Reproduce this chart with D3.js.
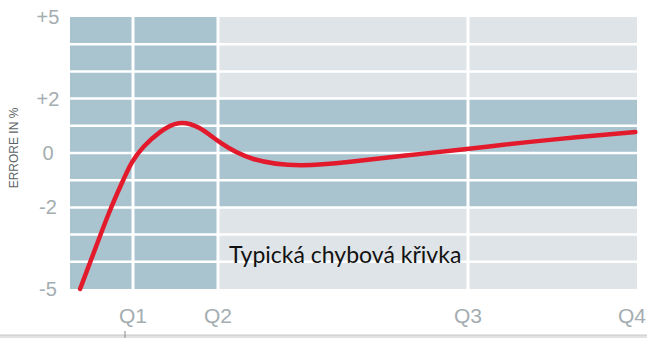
<!DOCTYPE html>
<html>
<head>
<meta charset="utf-8">
<script src="https://cdn.jsdelivr.net/npm/d3@7"></script>
<style>
  body { margin: 0; background: #fff; }
  svg { display: block; }
</style>
</head>
<body>
<div class="chart"></div>
<script>
// curve: x in quarters, y in % error
var curveQ = [0.16, 0.37, 0.63, 0.83, 0.98, 1.12, 1.32, 1.53, 1.79, 2.0, 2.13, 2.33, 2.53, 2.73, 3.0, 3.19, 3.5, 3.99];
var curveErr = [-5, -3.71, -2.1, -1.07, -0.3, 0.25, 0.8, 1.2, 0.98, 0.4, -0.3, -0.52, -0.33, -0.11, 0.15, 0.29, 0.5, 0.77];

var quarterTicks = [1, 2, 3, 4];
var quarterLabels = ['Q1', 'Q2', 'Q3', 'Q4'];
var errTicks = [5, 2, 0, -2, -5];
var errLabels = ['+5', '+2', '0', '-2', '-5'];
var rowEdges = d3.range(-5, 6);    // grid rows, one per percent
var colEdges = [0, 1, 2, 3, 4];
var tolerance = 2;                  // dark band is +-2 after Q2
var axisTitle = 'ERRORE IN %';
var caption = 'Typická chybová křivka';

var width = 647;
var height = 338;
var svg = d3.select('.chart').append('svg').attr('width', width).attr('height', height);

// quarters are not evenly spaced in the original, so piecewise scale
var x = d3.scaleLinear().domain(colEdges).range([70, 133, 218, 468, 637]);
var y = d3.scaleLinear().domain([-5, 5]).range([289, 17]);

var dark = '#a9c3cf';
var light = '#dee4e7';

// cells
var cells = [];
for (var c = 0; c < colEdges.length - 1; c++) {
  for (var r = 0; r < rowEdges.length - 1; r++) {
    cells.push({ q0: colEdges[c], q1: colEdges[c + 1], v0: rowEdges[r], v1: rowEdges[r + 1] });
  }
}
svg.append('g').selectAll('rect')
  .data(cells).enter()
  .append('rect')
  .attr('x', function(d) { return x(d.q0); })
  .attr('y', function(d) { return y(d.v1); })
  .attr('width', function(d) { return x(d.q1) - x(d.q0); })
  .attr('height', function(d) { return y(d.v0) - y(d.v1); })
  .attr('fill', function(d) {
    if (d.q1 <= 2) return dark;
    if (d.v0 >= -tolerance && d.v1 <= tolerance) return dark;
    return light;
  });

// white separators
svg.append('g').selectAll('line.h')
  .data(rowEdges.slice(1, -1)).enter()
  .append('line')
  .attr('x1', x(0)).attr('x2', x(4))
  .attr('y1', function(d) { return y(d); })
  .attr('y2', function(d) { return y(d); })
  .attr('stroke', '#fff').attr('stroke-width', 2.5);

svg.append('g').selectAll('line.v')
  .data(colEdges.slice(1, -1)).enter()
  .append('line')
  .attr('x1', function(d) { return x(d); })
  .attr('x2', function(d) { return x(d); })
  .attr('y1', y(5)).attr('y2', y(-5))
  .attr('stroke', '#fff').attr('stroke-width', 3);

// y tick labels
svg.append('g').selectAll('text')
  .data(errTicks).enter()
  .append('text')
  .attr('x', 48)
  .attr('y', function(d) { return y(d); })
  .attr('dy', '0.35em')
  .attr('text-anchor', 'middle')
  .attr('font-family', 'Liberation Sans, Arial, sans-serif')
  .attr('font-size', 20)
  .attr('fill', '#a4adb1')
  .text(function(d, i) { return errLabels[i]; });

// x tick labels
svg.append('g').selectAll('text')
  .data(quarterTicks).enter()
  .append('text')
  .attr('x', function(d) { return Math.min(x(d), width - 15); })
  .attr('y', 323)
  .attr('text-anchor', 'middle')
  .attr('font-family', 'Liberation Sans, Arial, sans-serif')
  .attr('font-size', 21)
  .attr('fill', '#a4adb1')
  .text(function(d, i) { return quarterLabels[i]; });

// axis title
svg.append('text')
  .attr('transform', 'translate(18,148) rotate(-90)')
  .attr('text-anchor', 'middle')
  .attr('font-family', 'Liberation Sans, Arial, sans-serif')
  .attr('font-size', 12)
  .attr('fill', '#5d6366')
  .text(axisTitle);

// error curve
var line = d3.line()
  .x(function(d) { return x(d[0]); })
  .y(function(d) { return y(d[1]); })
  .curve(d3.curveBasis);

svg.append('path')
  .datum(d3.zip(curveQ, curveErr))
  .attr('d', line)
  .attr('fill', 'none')
  .attr('stroke', '#e21a2c')
  .attr('stroke-width', 4.5)
  .attr('stroke-linecap', 'round');

// caption
svg.append('text')
  .attr('x', 229)
  .attr('y', 263)
  .attr('font-family', 'Lato, sans-serif')
  .attr('font-size', 23)
  .attr('fill', '#111')
  .text(caption);

// bottom strip
svg.append('rect')
  .attr('x', 0).attr('y', 335)
  .attr('width', width).attr('height', 3)
  .attr('fill', '#e2e2e2');
svg.append('line')
  .attr('x1', 0).attr('x2', width)
  .attr('y1', 335).attr('y2', 335)
  .attr('stroke', '#c8c8c8').attr('stroke-width', 1);
svg.append('line')
  .attr('x1', 125).attr('x2', 125)
  .attr('y1', 331).attr('y2', 338)
  .attr('stroke', '#888').attr('stroke-width', 1);
</script>
</body>
</html>
